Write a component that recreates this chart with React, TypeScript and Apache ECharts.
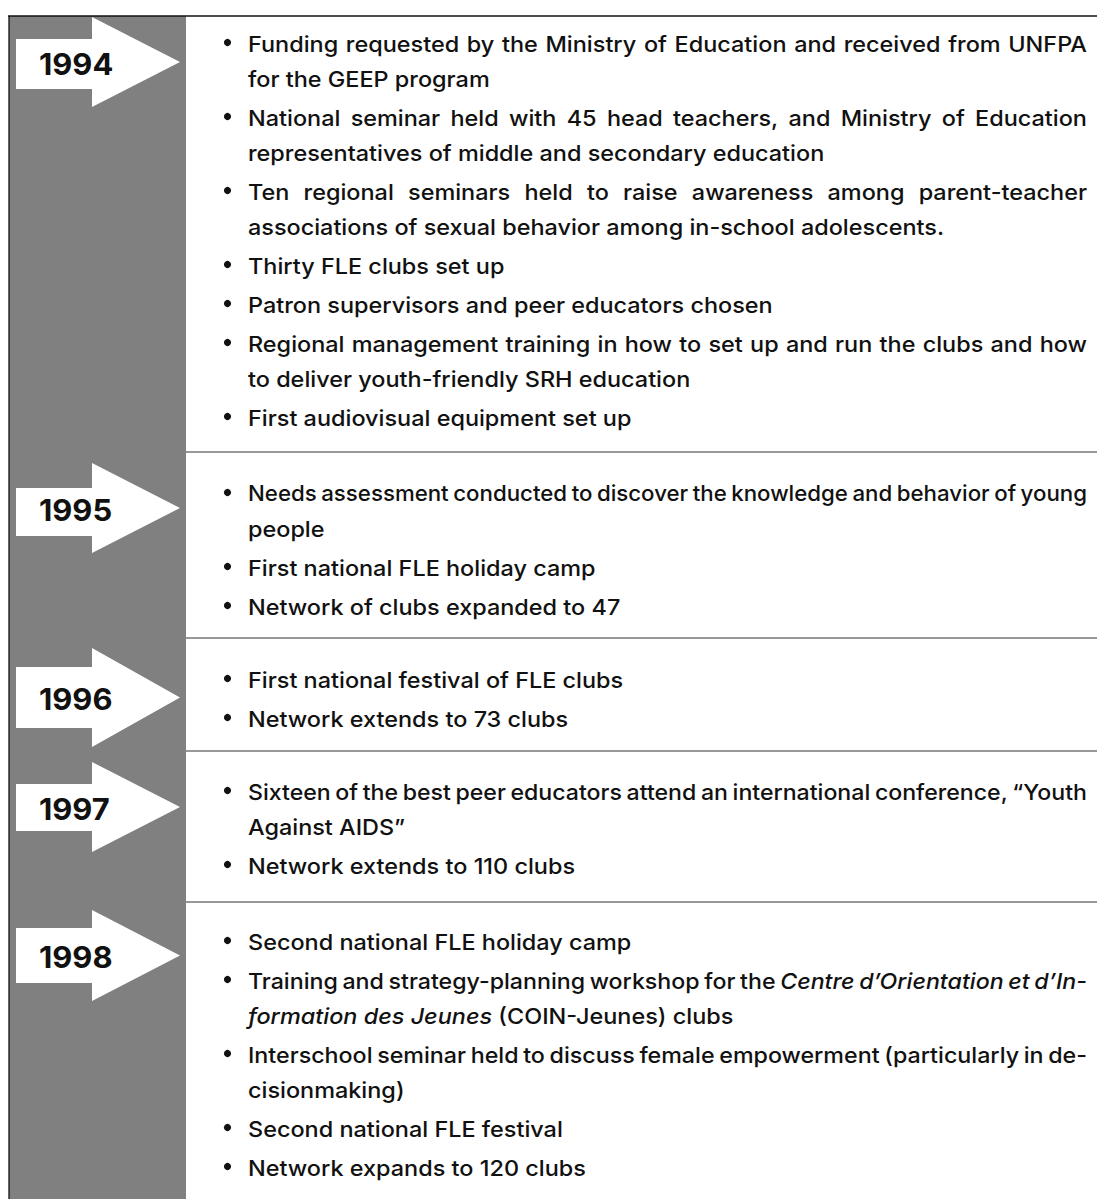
import React, { useEffect, useRef } from "react";
import * as echarts from "echarts";

// ---- content ----
const years = ["1994", "1995", "1996", "1997", "1998"];

const events1994 = [
  ["Funding requested by the Ministry of Education and received from UNFPA", "for the GEEP program"],
  ["National seminar held with 45 head teachers, and Ministry of Education", "representatives of middle and secondary education"],
  ["Ten regional seminars held to raise awareness among parent-teacher", "associations of sexual behavior among in-school adolescents."],
  ["Thirty FLE clubs set up"],
  ["Patron supervisors and peer educators chosen"],
  ["Regional management training in how to set up and run the clubs and how", "to deliver youth-friendly SRH education"],
  ["First audiovisual equipment set up"],
];
const events1995 = [
  ["Needs assessment conducted to discover the knowledge and behavior of young", "people"],
  ["First national FLE holiday camp"],
  ["Network of clubs expanded to 47"],
];
const events1996 = [["First national festival of FLE clubs"], ["Network extends to 73 clubs"]];
const events1997 = [
  ["Sixteen of the best peer educators attend an international conference, \u201cYouth", "Against AIDS\u201d"],
  ["Network extends to 110 clubs"],
];
const events1998 = [
  ["Second national FLE holiday camp"],
  ["Training and strategy-planning workshop for the *Centre d\u2019Orientation et d\u2019In-*", "*formation des Jeunes* (COIN-Jeunes) clubs"],
  ["Interschool seminar held to discuss female empowerment (particularly in de-", "cisionmaking)"],
  ["Second national FLE festival"],
  ["Network expands to 120 clubs"],
];
const eventsByYear = [events1994, events1995, events1996, events1997, events1998];

// ---- layout ----
const W = 1097;
const H = 1199;
const FRAME_LEFT = 9;
const FRAME_TOP = 16;
const COL_RIGHT = 186;
const TEXT_X = 248;
const TEXT_RIGHT = 1087;
const BULLET_X = 227.5;
const FONT_SIZE = 22;
const BASE_SX = 1.065;
const FONT_FAMILY = "Inter, 'Liberation Sans', Arial, sans-serif";
const STEP_IN = 35;
const STEP_BETWEEN = 39;
const sectionFirstLine = [42, 492, 678, 790, 940];
const separators = [452, 638, 751, 902];
// arrow geometry: [headTop, headBottom, bodyTop, bodyBottom]
const arrows = [
  [17, 107, 39, 89],
  [463, 553, 488, 536],
  [648, 747, 667, 728],
  [762, 852, 784, 831],
  [910, 1001, 928, 983],
];
const ARROW_LEFT = 16;
const ARROW_NECK = 92;
const ARROW_TIP = 180;
const YEAR_X = 39;

function parseWords(line: string) {
  const out: { t: string; it: boolean }[] = [];
  let italic = false;
  for (const tok of line.split(" ")) {
    let t = tok;
    let startIt = false;
    let endIt = false;
    if (t.startsWith("*")) { startIt = true; t = t.slice(1); }
    if (t.endsWith("*")) { endIt = true; t = t.slice(0, -1); }
    if (startIt) italic = true;
    out.push({ t, it: italic });
    if (endIt) italic = false;
  }
  return out;
}

export default function App() {
  const ref = useRef<HTMLDivElement>(null);
  useEffect(() => {
    if (!ref.current) return;
    const chart = echarts.init(ref.current, null, { renderer: "svg", width: W, height: H });
    const canvas = document.createElement("canvas");
    const ctx = canvas.getContext("2d")!;
    const fontStr = (it: boolean) => `${it ? "italic " : ""}500 ${FONT_SIZE}px ${FONT_FAMILY}`;
    const measure = (s: string, it: boolean) => {
      ctx.font = fontStr(it);
      return ctx.measureText(s).width * BASE_SX;
    };

    const g: any[] = [];
    // gray column
    g.push({ type: "rect", shape: { x: FRAME_LEFT, y: FRAME_TOP, width: COL_RIGHT - FRAME_LEFT, height: H - FRAME_TOP }, style: { fill: "#808080" }, silent: true });
    // frame lines
    g.push({ type: "line", shape: { x1: FRAME_LEFT - 1, y1: FRAME_TOP, x2: W, y2: FRAME_TOP }, style: { stroke: "#111", lineWidth: 1.3 } });
    g.push({ type: "line", shape: { x1: FRAME_LEFT, y1: FRAME_TOP, x2: FRAME_LEFT, y2: H }, style: { stroke: "#111", lineWidth: 1.3 } });
    separators.forEach((y) => {
      g.push({ type: "line", shape: { x1: COL_RIGHT, y1: y, x2: W, y2: y }, style: { stroke: "#333", lineWidth: 1.1 } });
    });

    years.forEach((yr, i) => {
      const [ht, hb, bt, bb] = arrows[i];
      const tipY = (ht + hb) / 2;
      g.push({
        type: "polygon",
        shape: { points: [[ARROW_LEFT, bt], [ARROW_NECK, bt], [ARROW_NECK, ht], [ARROW_TIP, tipY], [ARROW_NECK, hb], [ARROW_NECK, bb], [ARROW_LEFT, bb]] },
        style: { fill: "#ffffff" },
      });
      g.push({
        type: "text",
        x: YEAR_X,
        y: tipY + 2,
        scaleX: 1.03,
        style: { text: yr, x: 0, y: 0, fill: "#111", fontSize: 30, fontWeight: 700, fontFamily: FONT_FAMILY, align: "left", verticalAlign: "middle", textAlign: "left", textVerticalAlign: "middle" },
      });

      let y = sectionFirstLine[i];
      const items = eventsByYear[i];
      items.forEach((lines, k) => {
        if (k > 0) y += STEP_BETWEEN;
        lines.forEach((line, li) => {
          if (li > 0) y += STEP_IN;
          if (li === 0) {
            g.push({ type: "circle", shape: { cx: BULLET_X, cy: y + 0.5, r: 3.6 }, style: { fill: "#111" } });
          }
          const words = parseWords(line);
          const widths = words.map((w) => measure(w.t, w.it));
          const sum = widths.reduce((a, b) => a + b, 0);
          const space = measure(" ", false);
          const justify = li < lines.length - 1 && words.length > 1;
          const target = TEXT_RIGHT - TEXT_X;
          let gap = space;
          let scale = 1;
          if (justify) {
            gap = (target - sum) / (words.length - 1);
            if (gap < space * 0.75) {
              gap = space * 0.75;
              scale = target / (sum + gap * (words.length - 1));
            }
          }
          let x = TEXT_X;
          words.forEach((w, wi) => {
            g.push({
              type: "text",
              x,
              y: y + 1.3,
              scaleX: scale * BASE_SX,
              style: {
                text: w.t, x: 0, y: 0, fill: "#111", fontSize: FONT_SIZE, fontWeight: 500,
                fontStyle: w.it ? "italic" : "normal", fontFamily: FONT_FAMILY,
                align: "left", verticalAlign: "middle", textAlign: "left", textVerticalAlign: "middle",
              },
            });
            x += (widths[wi] + gap) * scale;
          });
        });
      });
    });

    chart.setOption({ animation: false, graphic: { elements: g } });
    return () => chart.dispose();
  }, []);
  return <div ref={ref} style={{ position: "fixed", left: 0, top: 0, width: W, height: H, background: "#fff" }} />;
}
